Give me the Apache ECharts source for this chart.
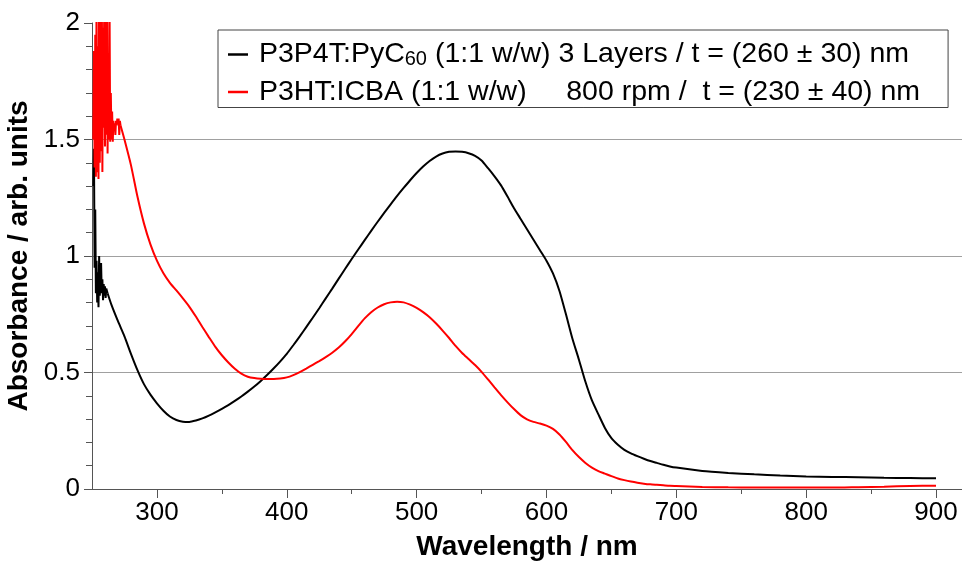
<!DOCTYPE html>
<html>
<head>
<meta charset="utf-8">
<script src="https://cdn.jsdelivr.net/npm/echarts@6/dist/echarts.min.js"></script>
<style>
  html, body { margin: 0; padding: 0; background: #fff; }
  #chart { width: 962px; height: 562px; }
</style>
</head>
<body>
<div id="chart"></div>
<script>
// UV-Vis absorbance spectra of two blend films

const nameP3P4T = 'P3P4T:PyC60 (1:1 w/w) 3 Layers / t = (260 ± 30) nm';
const nameP3HT = 'P3HT:ICBA (1:1 w/w)     800 rpm /  t = (230 ± 40) nm';

// P3P4T:PyC60 — noisy detector region near 250 nm
const p3p4tOnsetNm  = [251, 251.5, 252, 252.5, 253, 253.5, 254, 254.5, 255, 255.5, 256, 256.5, 257, 257.5, 258, 258.5, 259, 259.5, 260, 260.5, 261, 262];
const p3p4tOnsetAbs = [1.30, 1.46, 0.95, 1.20, 0.84, 0.98, 0.80, 0.93, 0.78, 1.00, 0.83, 0.90, 0.97, 0.84, 0.90, 0.81, 0.88, 0.83, 0.87, 0.82, 0.86, 0.84];

// P3P4T:PyC60 — main spectrum
const p3p4tNm  = [262, 265, 270, 275, 280, 285, 290, 295, 300, 305, 310, 315, 320, 325, 330, 335, 340, 345, 350, 355, 360, 365, 370, 375, 380, 385, 390, 395, 400, 405, 410, 415, 420, 425, 430, 435, 440, 445, 450, 455, 460, 465, 470, 475, 480, 485, 490, 495, 500, 505, 510, 515, 520, 525, 530, 535, 540, 545, 550, 555, 560, 565, 570, 575, 580, 585, 590, 595, 600, 605, 610, 615, 620, 625, 630, 635, 640, 645, 650, 655, 660, 665, 670, 675, 680, 685, 690, 695, 700, 720, 740, 760, 780, 800, 820, 840, 860, 880, 900];
const p3p4tAbs = [0.84, 0.79, 0.72, 0.655, 0.58, 0.51, 0.45, 0.405, 0.368, 0.336, 0.311, 0.296, 0.289, 0.288, 0.294, 0.303, 0.315, 0.329, 0.344, 0.36, 0.378, 0.397, 0.418, 0.44, 0.464, 0.49, 0.518, 0.548, 0.58, 0.617, 0.655, 0.695, 0.735, 0.776, 0.818, 0.86, 0.903, 0.945, 0.987, 1.028, 1.068, 1.108, 1.147, 1.185, 1.222, 1.258, 1.292, 1.325, 1.356, 1.384, 1.408, 1.427, 1.44, 1.447, 1.449, 1.447, 1.441, 1.43, 1.41, 1.377, 1.342, 1.303, 1.255, 1.205, 1.16, 1.115, 1.07, 1.025, 0.98, 0.925, 0.85, 0.75, 0.645, 0.555, 0.46, 0.38, 0.32, 0.262, 0.218, 0.19, 0.168, 0.153, 0.141, 0.13, 0.12, 0.112, 0.104, 0.097, 0.092, 0.077, 0.069, 0.063, 0.058, 0.054, 0.052, 0.05, 0.048, 0.047, 0.046];

// P3HT:ICBA — noisy detector region near 250 nm
const p3htOnsetNm  = [251, 251.5, 252, 252.5, 253, 253.5, 254, 254.5, 255, 255.5, 256, 256.5, 257, 257.5, 258, 258.5, 259, 259.5, 260, 260.5, 261, 261.5, 262, 262.5, 263, 263.5, 264, 264.5, 265, 265.5, 266, 266.5, 267, 267.5, 268, 268.5, 269, 269.5, 270, 270.5, 271, 271.5, 272];
const p3htOnsetAbs = [1.50, 1.88, 1.38, 1.95, 1.34, 2.10, 1.36, 1.90, 1.33, 2.20, 1.40, 2.05, 1.45, 2.30, 1.36, 1.98, 1.55, 2.25, 1.47, 2.15, 1.52, 2.30, 1.44, 1.85, 1.50, 2.10, 1.49, 1.70, 1.50, 1.62, 1.49, 1.58, 1.54, 1.57, 1.52, 1.58, 1.56, 1.59, 1.57, 1.59, 1.52, 1.58, 1.56];

// P3HT:ICBA — main spectrum
const p3htNm  = [272, 275, 280, 285, 290, 295, 300, 305, 310, 315, 320, 325, 330, 335, 340, 345, 350, 355, 360, 365, 370, 375, 380, 385, 390, 395, 400, 405, 410, 415, 420, 425, 430, 435, 440, 445, 450, 455, 460, 465, 470, 475, 480, 485, 490, 495, 500, 505, 510, 515, 520, 525, 530, 535, 540, 545, 550, 555, 560, 565, 570, 575, 580, 585, 590, 595, 600, 605, 610, 615, 620, 625, 630, 635, 640, 645, 650, 655, 660, 665, 670, 675, 680, 685, 690, 695, 700, 720, 740, 760, 780, 800, 820, 840, 860, 880, 900];
const p3htAbs = [1.56, 1.50, 1.39, 1.255, 1.14, 1.05, 0.98, 0.926, 0.885, 0.852, 0.818, 0.782, 0.74, 0.695, 0.652, 0.61, 0.574, 0.543, 0.516, 0.495, 0.482, 0.476, 0.473, 0.472, 0.472, 0.474, 0.479, 0.489, 0.502, 0.517, 0.533, 0.549, 0.566, 0.585, 0.607, 0.634, 0.665, 0.699, 0.732, 0.759, 0.779, 0.793, 0.801, 0.804, 0.801, 0.791, 0.777, 0.759, 0.737, 0.71, 0.68, 0.648, 0.614, 0.584, 0.558, 0.532, 0.503, 0.47, 0.436, 0.403, 0.372, 0.343, 0.317, 0.299, 0.288, 0.281, 0.272, 0.258, 0.234, 0.202, 0.167, 0.137, 0.112, 0.092, 0.077, 0.066, 0.055, 0.045, 0.038, 0.032, 0.027, 0.023, 0.020, 0.018, 0.016, 0.014, 0.013, 0.009, 0.007, 0.006, 0.006, 0.006, 0.006, 0.008, 0.010, 0.013, 0.014];

// Axis ticks
const xMajorTicks = [300, 400, 500, 600, 700, 800, 900];
const xMinorTicks = [350, 450, 550, 650, 750, 850];
const yTickLabels = [0, 0.5, 1, 1.5, 2];

const FONT = "'Liberation Sans', Arial, sans-serif";
const AXIS_GREY = '#555';

function zip(xs, ys) { return xs.map((x, i) => [x, ys[i]]); }

const chart = echarts.init(document.getElementById('chart'), null, { renderer: 'canvas' });

const option = {
  backgroundColor: '#fff',
  animation: false,
  grid: { left: 92, right: 0, top: 23, bottom: 73, containLabel: false, outerBoundsMode: 'none' },
  legend: {
    orient: 'vertical',
    left: 218,
    top: 30,
    padding: [10, 28, 1, 10],
    borderColor: '#444',
    borderWidth: 1,
    backgroundColor: '#fff',
    icon: 'rect',
    itemWidth: 20,
    itemHeight: 2.5,
    itemGap: 8,
    data: [nameP3P4T, nameP3HT],
    formatter: function (name) {
      if (name === nameP3P4T) {
        return '{f|P3P4T:PyC}{s|60}{t| (1:1 w/w) 3 Layers / t = (260 ± 30) nm}';
      }
      return '{f|' + nameP3HT + '}';
    },
    textStyle: {
      fontFamily: FONT,
      fontSize: 28.5,
      color: '#000',
      rich: {
        f: { fontFamily: FONT, fontSize: 28.5, color: '#000', lineHeight: 30, padding: [0, 0, 0, 6] },
        t: { fontFamily: FONT, fontSize: 28.5, color: '#000', lineHeight: 30 },
        s: { fontFamily: FONT, fontSize: 20, color: '#000', lineHeight: 30, verticalAlign: 'bottom' }
      }
    }
  },
  xAxis: [
    {
      type: 'value',
      min: 250,
      max: 920,
      name: 'Wavelength / nm',
      nameLocation: 'middle',
      nameGap: 44,
      nameTextStyle: { fontFamily: FONT, fontSize: 28, fontWeight: 'bold', color: '#000' },
      axisLine: { show: true, lineStyle: { color: AXIS_GREY, width: 1 } },
      axisTick: { show: true, inside: false, length: 9, customValues: xMajorTicks, lineStyle: { color: AXIS_GREY } },
      axisLabel: { show: true, customValues: xMajorTicks, fontFamily: FONT, fontSize: 26, color: '#000', margin: 11 },
      splitLine: { show: false }
    },
    {
      type: 'value',
      min: 250,
      max: 920,
      position: 'bottom',
      offset: 0,
      axisLine: { show: false },
      axisTick: { show: true, inside: false, length: 5, customValues: xMinorTicks, lineStyle: { color: AXIS_GREY } },
      axisLabel: { show: false },
      splitLine: { show: false }
    }
  ],
  yAxis: {
    type: 'value',
    min: 0,
    max: 2,
    interval: 0.5,
    name: 'Absorbance / arb. units',
    nameLocation: 'middle',
    nameGap: 53,
    nameTextStyle: { fontFamily: FONT, fontSize: 28, fontWeight: 'bold', color: '#000' },
    axisLine: { show: true, lineStyle: { color: AXIS_GREY, width: 1 } },
    axisTick: { show: true, inside: false, length: 8, lineStyle: { color: AXIS_GREY } },
    minorTick: { show: true, splitNumber: 5, length: 6, lineStyle: { color: AXIS_GREY } },
    axisLabel: {
      fontFamily: FONT, fontSize: 26, color: '#000', margin: 12,
      formatter: function (v) {
        const hit = yTickLabels.find(t => Math.abs(t - v) < 1e-9);
        return hit === undefined ? '' : String(hit);
      }
    },
    splitLine: { show: true, showMinLine: false, showMaxLine: false, lineStyle: { color: '#a0a0a0', width: 1 } }
  },
  series: [
    {
      name: nameP3P4T, type: 'line', xAxisIndex: 0, showSymbol: false, clip: true,
      lineStyle: { color: '#000', width: 2 }, itemStyle: { color: '#000' },
      data: zip(p3p4tOnsetNm, p3p4tOnsetAbs)
    },
    {
      name: nameP3P4T, type: 'line', xAxisIndex: 0, showSymbol: false, clip: true, smooth: 0.2,
      lineStyle: { color: '#000', width: 2 }, itemStyle: { color: '#000' },
      data: zip(p3p4tNm, p3p4tAbs)
    },
    {
      name: nameP3HT, type: 'line', xAxisIndex: 0, showSymbol: false, clip: true,
      lineStyle: { color: '#ff0000', width: 2 }, itemStyle: { color: '#ff0000' },
      data: zip(p3htOnsetNm, p3htOnsetAbs)
    },
    {
      name: nameP3HT, type: 'line', xAxisIndex: 0, showSymbol: false, clip: true, smooth: 0.2,
      lineStyle: { color: '#ff0000', width: 2 }, itemStyle: { color: '#ff0000' },
      data: zip(p3htNm, p3htAbs)
    }
  ]
};

chart.setOption(option);
</script>
</body>
</html>
